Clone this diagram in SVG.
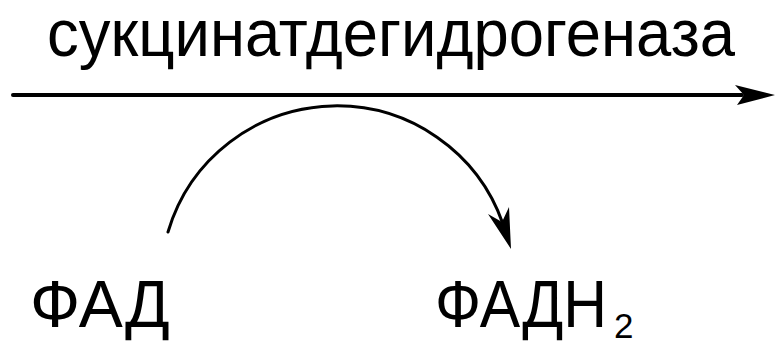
<svg xmlns="http://www.w3.org/2000/svg" width="775" height="341" viewBox="0 0 775 341">
<style>
.t{font-family:"Liberation Sans",Arial,sans-serif;fill:#000}
.ln{fill:none;stroke:#000;stroke-linecap:round}
.ah{fill:#000;stroke:none}
</style>
<rect width="775" height="341" fill="#fff"/>
<g id="enzyme">
<text class="t" x="47" y="56" font-size="67" textLength="688" lengthAdjust="spacingAndGlyphs">сукцинатдегидрогеназа</text>
</g>
<g id="fad">
<text class="t" x="30" y="327" font-size="66">ФАД</text>
</g>
<g id="fadh2">
<text class="t" x="435" y="327" font-size="66"><tspan textLength="172" lengthAdjust="spacingAndGlyphs">ФАДН</tspan><tspan x="614" y="338" font-size="35">2</tspan></text>
</g>
<g id="connectors">
<line class="ln" x1="13" y1="95" x2="742" y2="95" stroke-width="4"/>
<polygon class="ah" points="735,85 775,95 737,105 744,95"/>
<path class="ln" d="M168,232 A176,176 0 0 1 503,224" stroke-width="3"/>
<polygon class="ah" points="488,214 502,222 509,207 511,249"/>
</g>
</svg>
